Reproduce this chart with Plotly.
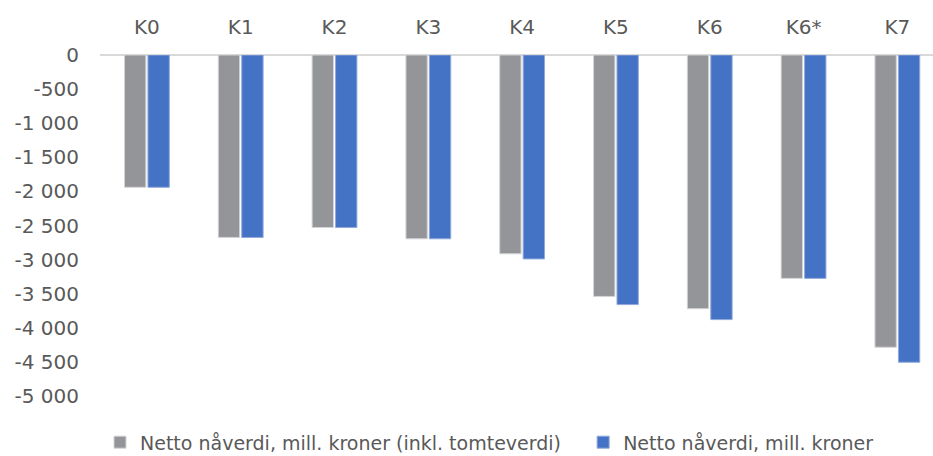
import plotly.graph_objects as go

# Net present value per alternative (million NOK)
categories = ["K0", "K1", "K2", "K3", "K4", "K5", "K6", "K6*", "K7"]
npv_incl_site = [-1940, -2675, -2530, -2695, -2915, -3540, -3720, -3275, -4285]
npv = [-1940, -2675, -2530, -2695, -2990, -3660, -3880, -3275, -4505]

series_names = [
    "Netto nåverdi, mill. kroner (inkl. tomteverdi)",
    "Netto nåverdi, mill. kroner",
]

y_ticks = list(range(0, -5001, -500))


def fmt(v):
    s = f"{abs(v):,}".replace(",", " ")
    return ("-" if v < 0 else "") + s


y_ticktext = [fmt(v) for v in y_ticks]

FONT = "'DejaVu Sans', sans-serif"
TEXT_COLOR = "#595959"

fig = go.Figure()
fig.add_trace(go.Bar(
    x=categories, y=npv_incl_site, name=series_names[0],
    marker=dict(color="#949599", line=dict(color="#d4d4d6", width=1)),
    legend="legend",
))
fig.add_trace(go.Bar(
    x=categories, y=npv, name=series_names[1],
    marker=dict(color="#4472C4", line=dict(color="#8fa9dc", width=1)),
    legend="legend2",
))

legend_common = dict(
    orientation="h",
    xanchor="left",
    yref="container", y=0.03, yanchor="middle",
    font=dict(size=19, color=TEXT_COLOR),
    itemwidth=30,
    bgcolor="rgba(0,0,0,0)",
)

fig.update_layout(
    width=933, height=456,
    margin=dict(l=100, r=0, t=55, b=60),
    paper_bgcolor="white", plot_bgcolor="white",
    barmode="group", bargap=0.5, bargroupgap=0.09,
    font=dict(family=FONT, size=18, color=TEXT_COLOR),
    xaxis=dict(
        side="top", type="category",
        range=[-0.5, 8.38],
        showline=False, showgrid=False, ticks="",
        tickfont=dict(size=20, color=TEXT_COLOR),
        ticklabelstandoff=16,
    ),
    yaxis=dict(
        range=[-5000, 0],
        tickvals=y_ticks, ticktext=y_ticktext,
        showgrid=False, showline=False,
        zeroline=True, zerolinecolor="#d9d9d9", zerolinewidth=1.5,
        ticklabelstandoff=20,
        tickfont=dict(size=20, color=TEXT_COLOR),
    ),
    legend=dict(x=0.0, **legend_common),
    legend2=dict(x=0.58, **legend_common),
    showlegend=True,
)

fig.write_html("out.html")
